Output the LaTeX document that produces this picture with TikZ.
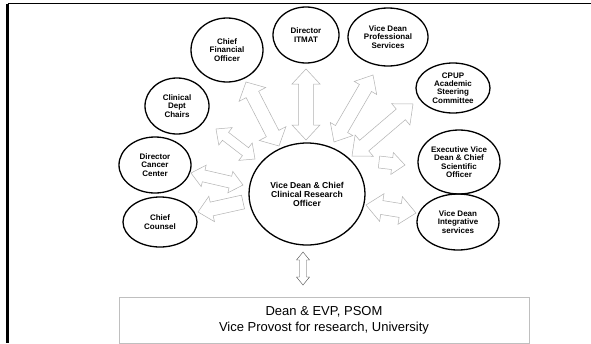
\documentclass[tikz,border=0pt]{standalone}
\usepackage{fontspec}
\setmainfont{Liberation Sans}
\usetikzlibrary{shapes.geometric,calc}
\tikzset{
  oval/.style={ellipse, draw=black, line width=1.3pt, inner sep=0pt, align=center,
    font=\fontsize{8}{8.3}\selectfont\bfseries},
  blk/.style={draw=black!30, line width=0.5pt, line join=miter, fill=white},
  frame/.style={draw=black, line width=1pt},
}
% double block arrow between two named points: #1,#2 ends, #3 shaft half width, #4 head half width, #5 head length
\newcommand\dblarrow[5]{%
  \draw[blk] (#1)
    -- ($(#1)!#5!(#2)!#4!90:(#2)$)
    -- ($(#1)!#5!(#2)!#3!90:(#2)$)
    -- ($(#2)!#5!(#1)!#3!-90:(#1)$)
    -- ($(#2)!#5!(#1)!#4!-90:(#1)$)
    -- (#2)
    -- ($(#2)!#5!(#1)!#4!90:(#1)$)
    -- ($(#2)!#5!(#1)!#3!90:(#1)$)
    -- ($(#1)!#5!(#2)!#3!-90:(#2)$)
    -- ($(#1)!#5!(#2)!#4!-90:(#2)$)
    -- cycle;}
% single block arrow from tail #1 to tip #2
\newcommand\onearrow[5]{%
  \draw[blk] ($(#1)!#3!90:(#2)$)
    -- ($(#2)!#5!(#1)!#3!-90:(#1)$)
    -- ($(#2)!#5!(#1)!#4!-90:(#1)$)
    -- (#2)
    -- ($(#2)!#5!(#1)!#4!90:(#1)$)
    -- ($(#2)!#5!(#1)!#3!90:(#1)$)
    -- ($(#1)!#3!-90:(#2)$)
    -- cycle;}
\begin{document}
\begin{tikzpicture}[x=1pt,y=-1pt]
\useasboundingbox (0,0) rectangle (591,343);
\fill[white] (0,0) rectangle (591,343);
% frame lines
\coordinate (tl) at (7.5,3.5);
\coordinate (tr) at (591,3.5);
\coordinate (bl) at (7.5,343);
\draw[frame] (tl) -- (tr);
\draw[black, line width=3pt] (tl) -- (bl);

% ellipses
\node[oval, minimum width=72pt, minimum height=64pt] (cfo) at (227,50) {Chief\\Financial\\Officer};
\node[oval, minimum width=66pt, minimum height=56pt] (itmat) at (306,35) {Director\\ITMAT};
\node[oval, minimum width=80pt, minimum height=58pt] (vdps) at (388,37) {Vice Dean\\Professional\\Services};
\node[oval, minimum width=74pt, minimum height=50pt] (cpup) at (453,88) {CPUP\\Academic\\Steering\\Committee};
\node[oval, minimum width=82pt, minimum height=64pt] (evd) at (459,162) {Executive Vice\\Dean \& Chief\\Scientific\\Officer};
\node[oval, minimum width=82pt, minimum height=56pt] (vdis) at (458,222) {Vice Dean\\Integrative\\services};
\node[oval, minimum width=64pt, minimum height=56pt] (cdc) at (177,106) {Clinical\\Dept\\Chairs};
\node[oval, minimum width=72pt, minimum height=56pt] (dcc) at (155,165) {Director\\Cancer\\Center};
\node[oval, minimum width=74pt, minimum height=50pt] (cc) at (160,222) {Chief\\Counsel};
\node[oval, minimum width=116pt, minimum height=102pt, font=\fontsize{8.6}{9}\selectfont\bfseries] (vd) at (307,194) {Vice Dean \& Chief\\Clinical Research\\Officer};

% bottom box
\node[draw=black!25, line width=0.6pt, minimum width=410pt, minimum height=46pt, inner sep=0pt, align=center,
  font=\fontsize{13}{16}\selectfont] (dean) at (324,320.5) {Dean \& EVP, PSOM\\Vice Provost for research, University};

% arrow end points
\coordinate (a1) at (246,82);  \coordinate (b1) at (279,146);
\coordinate (a2) at (216,129); \coordinate (b2) at (255,159);
\coordinate (a3) at (306,69);  \coordinate (b3) at (306,140);
\coordinate (a4) at (373,75);  \coordinate (b4) at (334,142);
\coordinate (a5) at (413,104); \coordinate (b5) at (352,156);
\coordinate (a6) at (379,162); \coordinate (b6) at (405,165);
\coordinate (a7) at (366,205); \coordinate (b7) at (416,213);
\coordinate (a8) at (191,173); \coordinate (b8) at (243,185);
\coordinate (a9) at (243,202); \coordinate (b9) at (198,212);
\coordinate (a10) at (303,252); \coordinate (b10) at (303,285);

\dblarrow{a1}{b1}{7pt}{15pt}{14pt}
\dblarrow{a2}{b2}{5pt}{11pt}{12pt}
\dblarrow{a3}{b3}{7.5pt}{14pt}{15pt}
\dblarrow{a4}{b4}{7pt}{13pt}{15pt}
\dblarrow{a5}{b5}{7pt}{14pt}{16pt}
\onearrow{a6}{b6}{6pt}{11pt}{13pt}
\dblarrow{a7}{b7}{7pt}{14pt}{16pt}
\dblarrow{a8}{b8}{6pt}{11pt}{13pt}
\onearrow{a9}{b9}{7pt}{13pt}{14pt}
\draw[blk, draw=black!70, line width=0.4pt] (a10)
  -- ++(6.5,8) -- ++(-3,0) -- ++(0,17) -- ++(3,0) -- (b10)
  -- ++(-6.5,-8) -- ++(3,0) -- ++(0,-17) -- ++(-3,0) -- cycle;
\end{tikzpicture}
\end{document}
